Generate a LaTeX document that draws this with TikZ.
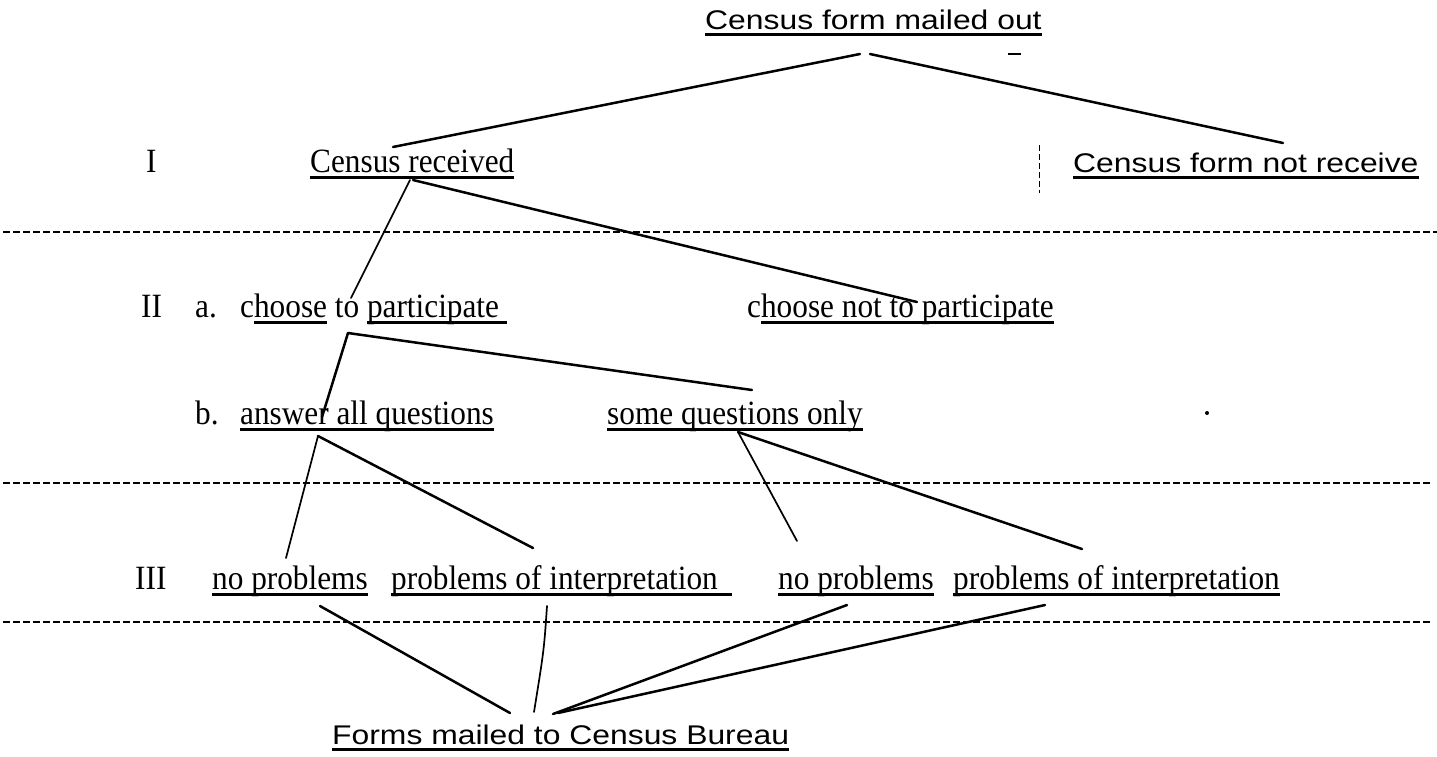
\documentclass[tikz,border=0pt]{standalone}
\usepackage{fontspec}
\newfontfamily\sansft[FakeStretch=1.18]{Liberation Sans}
\newfontfamily\serft[FakeStretch=0.92]{Liberation Serif}
\newcommand{\ulx}[1]{\setbox0\hbox{#1}\rlap{\rule[-6.5pt]{\wd0}{2.4pt}}\box0\relax}
\begin{document}
\begin{tikzpicture}[x=1pt,y=-1pt,
  ser/.style={inner sep=0pt, anchor=base west, font=\serft\fontsize{34}{40}\selectfont},
  san/.style={inner sep=0pt, anchor=base west, font=\sansft\fontsize{27}{32}\selectfont},
  conn/.style={line width=2.5pt, line cap=round, line join=round},
  thinconn/.style={line width=1.7pt, line cap=round},
  sepline/.style={line width=1.3pt, dash pattern=on 7pt off 3pt},
  vsep/.style={line width=0.9pt, dash pattern=on 6pt off 3pt}]
\useasboundingbox[fill=white] (0,0) rectangle (1437,756);

% level separators
\draw[sepline] (3,232) -- (1437,232);
\draw[sepline] (3,483) -- (1430,483);
\draw[sepline] (3,622) -- (1430,622);
\draw[vsep] (1039,145) -- (1039,193);

% texts
\node[san] (top) at (705,29) {\ulx{Census form mailed out}};
\node[ser] (lI) at (146,172) {I};
\node[ser] (rec) at (310,172) {\ulx{Census received}};
\node[san] (notrec) at (1073,172) {\ulx{Census form not receive}};
\node[ser] (lII) at (141,317) {II};
\node[ser] (la) at (195,317) {a.};
\node[ser] (part) at (240,317) {c\ulx{hoose} to \ulx{\hbox to 140pt{participate\hfil}}};
\node[ser] (nopart) at (747,317) {c\ulx{hoose not to participate}};
\node[ser] (lb) at (195,424) {b.};
\node[ser] (all) at (240,424) {\ulx{answer all questions}};
\node[ser] (some) at (607,424) {\ulx{some questions only}};
\node[ser] (lIII) at (135,589) {III};
\node[ser] (np1) at (212,589) {\ulx{no problems}};
\node[ser] (pi1) at (391,589) {\ulx{\hbox to 341pt{problems of interpretation\hfil}}};
\node[ser] (np2) at (778,589) {\ulx{no problems}};
\node[ser] (pi2) at (953,589) {\ulx{problems of interpretation}};
\node[san] (forms) at (332,744) {\ulx{Forms mailed to Census Bureau}};
\fill (1207,413) circle (2pt);

% connection points
\coordinate (topL) at (860,54);
\coordinate (topR) at (870,54);
\coordinate (recIn) at (393,147);
\coordinate (notrecIn) at (1283,143);
\coordinate (recOut1) at (410,180);
\coordinate (recOut2) at (413,180);
\coordinate (partIn) at (351,298);
\coordinate (nopartIn) at (917,302);
\coordinate (partOut) at (348,333);
\coordinate (allIn) at (322,417);
\coordinate (someIn) at (752,390);
\coordinate (allOut) at (318,436);
\coordinate (someOut) at (738,432);
\coordinate (np1In) at (286,558);
\coordinate (pi1In) at (533,548);
\coordinate (np2In) at (797,541);
\coordinate (pi2In) at (1082,549);
\coordinate (np1Out) at (320,606);
\coordinate (pi1Out) at (547,606);
\coordinate (np2Out) at (847,605);
\coordinate (pi2Out) at (1045,605);
\coordinate (formsA) at (510,713);
\coordinate (formsB) at (534,712);
\coordinate (formsC) at (553,714);
\coordinate (formsD) at (558,713);

% connectors
\draw[conn] (topL) -- (recIn);
\draw[conn] (topR) -- (notrecIn);
\draw[line width=2.4pt] (1008,54) -- (1021,54);
\draw[thinconn] (recOut1) -- (partIn);
\draw[conn] (recOut2) -- (nopartIn);
\draw[conn] (partOut) -- (allIn);
\draw[conn] (partOut) -- (someIn);
\draw[thinconn] (allOut) -- (np1In);
\draw[conn] (allOut) -- (pi1In);
\draw[thinconn] (someOut) -- (np2In);
\draw[conn] (someOut) -- (pi2In);
\draw[conn] (np1Out) -- (formsA);
\draw[thinconn] (pi1Out) .. controls (544,650) .. (formsB);
\draw[conn] (np2Out) -- (formsC);
\draw[conn] (pi2Out) -- (formsD);
\end{tikzpicture}
\end{document}
